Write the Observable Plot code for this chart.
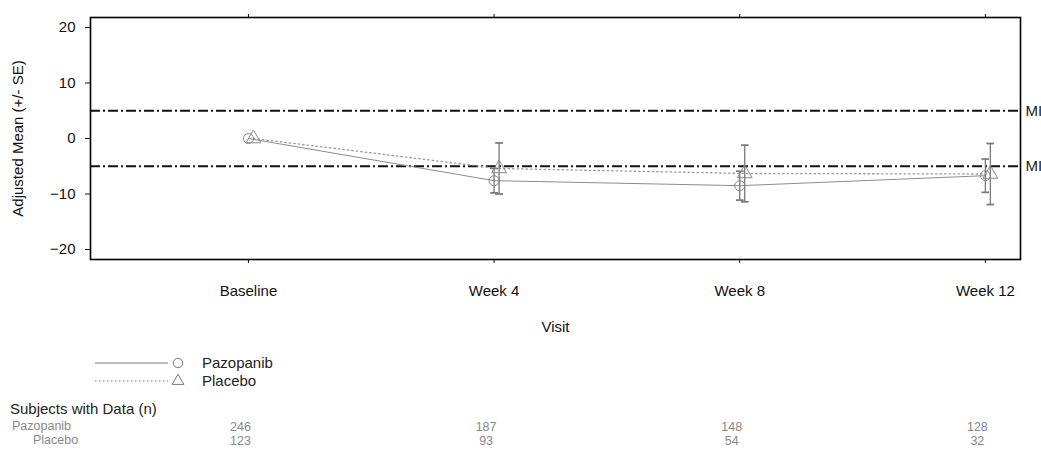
<!DOCTYPE html>
<html><head><meta charset="utf-8">
<script src="https://cdn.jsdelivr.net/npm/d3@7"></script>
<script src="https://cdn.jsdelivr.net/npm/@observablehq/plot@0.6"></script>
<style>
body{margin:0;background:#fff;font-family:"Liberation Sans",Arial,sans-serif;}
#wrap{position:relative;width:1041px;height:454px;overflow:hidden;background:#fff;}
.abs{position:absolute;white-space:nowrap;line-height:1;}
</style></head><body><div id="wrap"></div>
<script>
// ---- data ----
const visits = ["Baseline", "Week 4", "Week 8", "Week 12"];
const pazopanibMean = [0, -7.6, -8.5, -6.7];
const pazopanibSE   = [0, 2.2, 2.6, 3.0];
const placeboMean   = [0, -5.4, -6.3, -6.4];
const placeboSE     = [0, 4.6, 5.1, 5.5];
const pazopanibN    = [246, 187, 148, 128];
const placeboN      = [123, 93, 54, 32];
const groups        = ["Pazopanib", "Placebo"];
const refLines      = [5, -5];
const refLabels     = ["MI", "MI"];
const yTicks        = [-20, -10, 0, 10, 20];

// ---- tables ----
const paz = visits.map((v, i) => ({i, visit: v, mean: pazopanibMean[i], se: pazopanibSE[i]}));
const pla = visits.map((v, i) => ({i, visit: v, mean: placeboMean[i], se: placeboSE[i]}));
const pazE = paz.filter(d => d.se > 0);
const plaE = pla.filter(d => d.se > 0);
const counts = [
  ...visits.map((v, i) => ({i, group: "Pazopanib", n: pazopanibN[i]})),
  ...visits.map((v, i) => ({i, group: "Placebo", n: placeboN[i]}))
];
const refs = refLines.map((v, k) => ({v, label: refLabels[k]}));

const xDomain = [-0.643, 3.143];
const font = "Liberation Sans, Arial, sans-serif";
const wrap = document.getElementById("wrap");

const chart = Plot.plot({
  width: 1041, height: 345,
  marginTop: 17, marginBottom: 86, marginLeft: 90, marginRight: 21,
  style: {fontFamily: font, fontSize: "15px", color: "#111", background: "white", overflow: "visible"},
  x: {domain: xDomain},
  y: {domain: [-21.8, 21.8]},
  marks: [
    Plot.ruleY(refs, {y: "v", stroke: "#111", strokeWidth: 2.2, strokeDasharray: "10,3,2,3"}),
    Plot.text(refs, {x: xDomain[1], y: "v", text: "label", dx: 5, textAnchor: "start", clip: false, fill: "#222"}),
    Plot.line(paz, {x: "i", y: "mean", stroke: "#8c8c8c", strokeWidth: 1}),
    Plot.line(pla, {x: "i", y: "mean", stroke: "#9a9a9a", strokeWidth: 1.3, strokeDasharray: "1.5,3", dx: 5}),
    Plot.link(plaE, {x1: "i", x2: "i", y1: d => d.mean - d.se, y2: d => d.mean + d.se, stroke: "#777", strokeWidth: 1.3, marker: "tick", dx: 5}),
    Plot.link(pazE, {x1: "i", x2: "i", y1: d => d.mean - d.se, y2: d => d.mean + d.se, stroke: "#777", strokeWidth: 1.3, marker: "tick"}),
    Plot.dot(paz, {x: "i", y: "mean", symbol: "circle", r: 5, stroke: "#888", fill: "none", strokeWidth: 1}),
    Plot.dot(pla, {x: "i", y: "mean", symbol: "triangle", r: 5.5, stroke: "#888", fill: "none", strokeWidth: 1, dx: 5}),
    Plot.frame({stroke: "#000", strokeWidth: 1.6}),
    Plot.axisY({ticks: yTicks, tickSize: 5, tickPadding: 10, label: "Adjusted Mean (+/- SE)", labelAnchor: "center", labelOffset: 78, labelArrow: "none"}),
    Plot.axisX({ticks: [0, 1, 2, 3], tickFormat: i => visits[i], tickSize: 4, tickPadding: 22, label: "Visit", labelAnchor: "center", labelOffset: 72, labelArrow: "none"}),
    Plot.axisX({anchor: "top", ticks: [0, 1, 2, 3], tickFormat: () => "", tickSize: 4, label: null})
  ]
});
chart.style.position = "absolute";
chart.style.left = "0px";
chart.style.top = "0px";
wrap.appendChild(chart);

// ---- legend ----
const leg = d3.create("svg").attr("width", 320).attr("height", 44)
  .style("position", "absolute").style("left", "0px").style("top", "350px")
  .style("font-family", font).style("font-size", "15px");
const legRows = [
  {label: groups[0], y: 13, dash: null, sym: "circle"},
  {label: groups[1], y: 31, dash: "1.5,2.5", sym: "triangle"}
];
legRows.forEach(r => {
  leg.append("line").attr("x1", 95).attr("x2", 168).attr("y1", r.y).attr("y2", r.y)
    .attr("stroke", "#777").attr("stroke-width", 1).attr("stroke-dasharray", r.dash);
  leg.append("path").attr("transform", `translate(178,${r.y})`)
    .attr("d", d3.symbol(r.sym === "circle" ? d3.symbolCircle : d3.symbolTriangle, r.sym === "circle" ? 70 : 60)())
    .attr("fill", "none").attr("stroke", "#777");
  leg.append("text").attr("x", 202).attr("y", r.y).attr("dy", "0.35em").attr("fill", "#222").text(r.label);
});
wrap.appendChild(leg.node());

// ---- subjects table ----
const title = document.createElement("div");
title.className = "abs";
title.style.cssText = "left:10px;top:401px;font-size:15px;color:#222;";
title.textContent = "Subjects with Data (n)";
wrap.appendChild(title);

[[groups[0], 12, 420], [groups[1], 33, 434]].forEach(([g, l, t]) => {
  const d = document.createElement("div");
  d.className = "abs";
  d.style.cssText = `left:${l}px;top:${t}px;font-size:12.5px;color:#888;`;
  d.textContent = g;
  wrap.appendChild(d);
});

const table = Plot.plot({
  width: 1041, height: 34,
  marginTop: 10, marginBottom: 10, marginLeft: 90, marginRight: 21,
  style: {fontFamily: font, fontSize: "12.5px", background: "transparent", overflow: "visible"},
  x: {domain: xDomain, axis: null},
  y: {type: "point", domain: groups, padding: 0, axis: null},
  marks: [
    Plot.text(counts, {x: "i", y: "group", text: d => String(d.n), dx: -8, fill: "#888"})
  ]
});
table.style.position = "absolute";
table.style.left = "0px";
table.style.top = "416px";
wrap.appendChild(table);
</script>
</body></html>
